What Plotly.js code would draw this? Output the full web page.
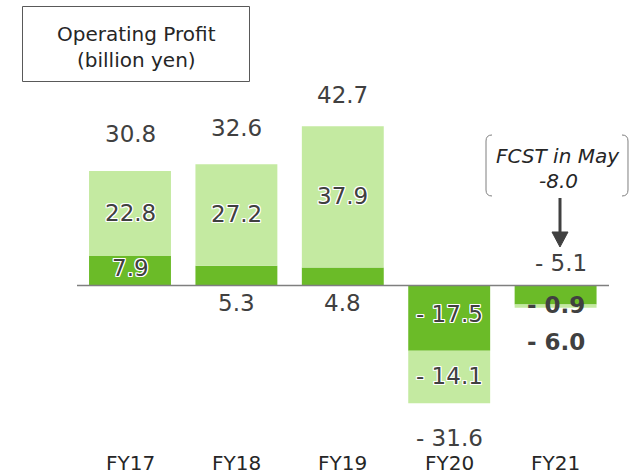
<!DOCTYPE html>
<html>
<head>
<meta charset="utf-8">
<script src="https://cdn.plot.ly/plotly-3.0.1.min.js"></script>
<style>html,body{margin:0;padding:0;background:#fff;}#chart{width:642px;height:476px;}</style>
</head>
<body>
<div id="chart"></div>
<script>
// ---- data ----
const categories = ['FY17', 'FY18', 'FY19', 'FY20', 'FY21'];
const darkSegment = [7.9, 5.3, 4.8, -17.5, -5.1];
const lightSegment = [22.8, 27.2, 37.9, -14.1, -0.9];
const totals = [30.8, 32.6, 42.7, -31.6, -6.0];
const titleLines = ['Operating Profit', '(billion yen)'];
const forecastLabel = 'FCST in May';
const forecastValue = -8.0;

// ---- styling / layout helpers ----
const W = 642, H = 476;
const PX = x => x / W;
const PY = y => 1 - y / H;
const DARK = '#6bbb28', LIGHT = '#c4eaa1', TXT = '#404040';
const FONT = 'DejaVu Sans, Verdana, sans-serif';
const HALO = '1px 1px 0 #fff, -1px -1px 0 #fff, 1px -1px 0 #fff, -1px 1px 0 #fff, 0 1px 0 #fff, 0 -1px 0 #fff, 1px 0 0 #fff, -1px 0 0 #fff';
const fmt = v => v < 0 ? '- ' + Math.abs(v).toFixed(1) : v.toFixed(1);
const fmtF = v => v.toFixed(1);

const traces = [
  {type: 'bar', x: categories, y: darkSegment, marker: {color: DARK}, hoverinfo: 'skip', showlegend: false},
  {type: 'bar', x: categories, y: lightSegment, marker: {color: LIGHT}, hoverinfo: 'skip', showlegend: false}
];

const ann = [];
function lab(x, y, text, opts) {
  opts = opts || {};
  ann.push({
    x: x, y: y, xref: 'x', yref: 'y', text: text, showarrow: false,
    xanchor: 'center', yanchor: 'middle', yshift: opts.yshift || 0, xshift: opts.xshift || 0,
    font: Object.assign({family: FONT, size: 23, color: TXT}, opts.font || {})
  });
}

// light segment labels (centered in segment) for FY17-FY20
for (let i = 0; i < 4; i++) {
  lab(categories[i], darkSegment[i] + lightSegment[i] / 2, fmt(lightSegment[i]), {font: {shadow: HALO}, yshift: 1});
}
// dark segment labels
lab(categories[0], darkSegment[0] / 2, fmt(darkSegment[0]), {font: {shadow: HALO}, yshift: 3});
lab(categories[1], 0, fmt(darkSegment[1]), {yshift: -17});
lab(categories[2], 0, fmt(darkSegment[2]), {yshift: -17});
lab(categories[3], darkSegment[3] / 2, fmt(darkSegment[3]), {font: {shadow: HALO}, yshift: 4});
lab(categories[4], 0, fmt(darkSegment[4]), {yshift: 23, xshift: 5});
lab(categories[4], darkSegment[4] + lightSegment[4], fmt(lightSegment[4]), {yshift: 3, font: {weight: 'bold'}});
// totals
const totShift = [37, 36, 31];
for (let i = 0; i < 3; i++) lab(categories[i], totals[i], fmtF(totals[i]), {yshift: totShift[i]});
lab(categories[3], totals[3], fmt(totals[3]), {yshift: -35});
lab(categories[4], totals[4], fmt(totals[4]), {yshift: -34, font: {weight: 'bold'}});

// category labels
for (let i = 0; i < categories.length; i++) {
  ann.push({x: categories[i], y: PY(463), xref: 'x', yref: 'paper', text: categories[i], showarrow: false,
    xanchor: 'center', yanchor: 'middle', font: {family: FONT, size: 20, color: '#262626'}});
}

// title box text
ann.push({x: PX(136), y: PY(34), xref: 'paper', yref: 'paper', text: titleLines[0], showarrow: false,
  xanchor: 'center', yanchor: 'middle', font: {family: FONT, size: 20, color: '#262626'}});
ann.push({x: PX(136), y: PY(60), xref: 'paper', yref: 'paper', text: titleLines[1], showarrow: false,
  xanchor: 'center', yanchor: 'middle', font: {family: FONT, size: 20, color: '#262626'}});

// forecast text
ann.push({x: PX(558), y: PY(156), xref: 'paper', yref: 'paper', text: forecastLabel, showarrow: false,
  xanchor: 'center', yanchor: 'middle', font: {family: FONT, size: 20, color: '#262626', style: 'italic'}});
ann.push({x: PX(558), y: PY(181), xref: 'paper', yref: 'paper', text: fmtF(forecastValue), showarrow: false,
  xanchor: 'center', yanchor: 'middle', font: {family: FONT, size: 20, color: '#262626', style: 'italic'}});

function P(pts) { // build path string in paper coords from pixel commands
  return pts.map(p => typeof p === 'string' ? p : (PX(p[0]).toFixed(5) + ',' + PY(p[1]).toFixed(5))).join(' ');
}

const shapes = [
  // zero line
  {type: 'line', xref: 'paper', yref: 'y', x0: PX(77), x1: PX(609), y0: 0, y1: 0, line: {color: '#7f7f7f', width: 1.6}},
  // title box
  {type: 'rect', xref: 'paper', yref: 'paper', x0: PX(22.5), x1: PX(249.5), y0: PY(6.5), y1: PY(81.5), line: {color: '#595959', width: 1}},
  // forecast brackets
  {type: 'path', xref: 'paper', yref: 'paper', line: {color: '#7f7f7f', width: 1},
   path: P(['M', [492, 135], 'Q', [486, 135], [486, 141], 'L', [486, 190], 'Q', [486, 196], [492, 196]])},
  {type: 'path', xref: 'paper', yref: 'paper', line: {color: '#7f7f7f', width: 1},
   path: P(['M', [622, 135], 'Q', [628, 135], [628, 141], 'L', [628, 190], 'Q', [628, 196], [622, 196]])},
  // arrow
  {type: 'line', xref: 'paper', yref: 'paper', x0: PX(560), x1: PX(560), y0: PY(198), y1: PY(234), line: {color: TXT, width: 3}},
  {type: 'path', xref: 'paper', yref: 'paper', fillcolor: TXT, line: {color: TXT, width: 1},
   path: P(['M', [552, 232], 'L', [568, 232], 'L', [560, 247], 'Z'])}
];

const layout = {
  width: W, height: H,
  margin: {l: 0, r: 0, t: 0, b: 0},
  paper_bgcolor: '#fff', plot_bgcolor: '#fff',
  barmode: 'relative', bargap: 0.23,
  xaxis: {type: 'category', range: [-130 / 106.4, (W - 130) / 106.4], visible: false, fixedrange: true},
  yaxis: {range: [-(H - 285.5) / 3.728, 285.5 / 3.728], visible: false, fixedrange: true},
  annotations: ann,
  shapes: shapes,
  showlegend: false
};

Plotly.newPlot('chart', traces, layout, {displayModeBar: false, staticPlot: true});
</script>
</body>
</html>
